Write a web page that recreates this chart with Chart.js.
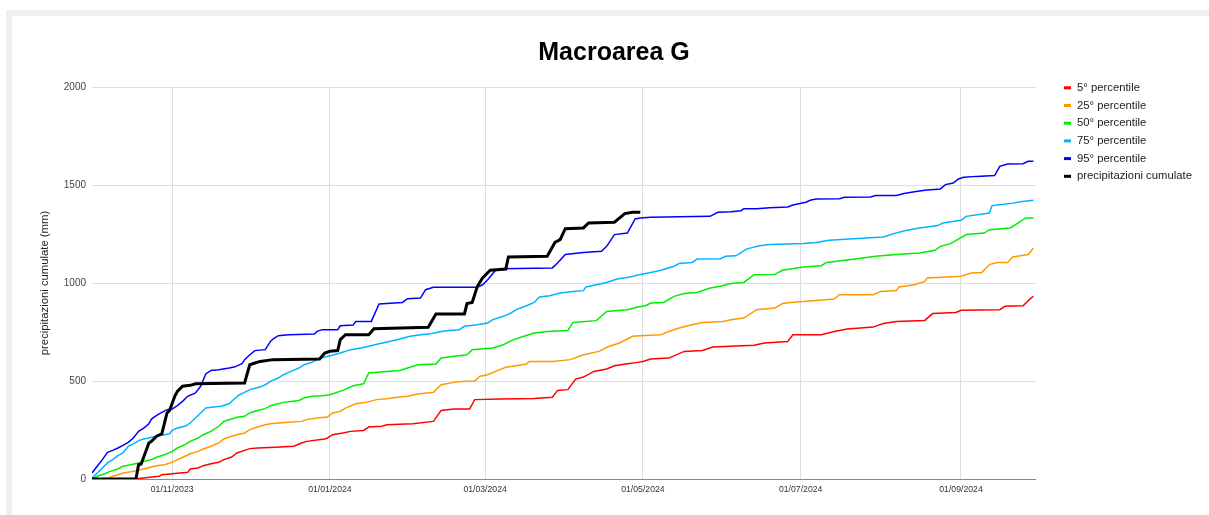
<!DOCTYPE html>
<html>
<head>
<meta charset="utf-8">
<script src="https://cdn.jsdelivr.net/npm/chart.js@4.4.0/dist/chart.umd.min.js"></script>
<style>
    html, body { margin: 0; padding: 0; background: #fff; }
    #frame { position: absolute; left: 6px; top: 10px; right: 0; bottom: 0; background: #efefef; }
    #card { position: absolute; left: 12px; top: 16px; right: 0; bottom: 0; background: #fff; }
    #chart { position: absolute; left: 0; top: 0; }
</style>
</head>
<body>
<div id="frame"></div>
<div id="card"></div>
<canvas id="chart" width="1209" height="515"></canvas>
<script>
// giorni dal 01/10/2023, valori in mm
const tickDays = [31, 92, 152, 213, 274, 336];
const tickLabels = ['01/11/2023', '01/01/2024', '01/03/2024', '01/05/2024', '01/07/2024', '01/09/2024'];

const p5 = [[0,0],[18,2],[20,5],[23,10],[26,14],[27,22],[31,27],[34,31],[37,34],[38,51],[41,56],[43,68],[46,78],[49,85],[51,99],[54,112],[56,133],[59,146],[61,155],[64,158],[71,162],[78,167],[81,184],[83,192],[90,204],[91,209],[93,226],[97,235],[100,243],[105,248],[107,265],[112,269],[114,277],[124,282],[132,294],[135,350],[140,357],[146,357],[148,405],[158,408],[171,411],[178,417],[180,452],[184,456],[187,510],[190,520],[194,549],[199,561],[202,578],[207,588],[211,595],[213,600],[216,612],[223,617],[229,651],[236,656],[240,673],[256,682],[260,694],[269,701],[271,736],[282,736],[287,753],[292,765],[302,775],[306,793],[311,804],[322,809],[325,844],[334,850],[336,861],[351,864],[353,881],[360,884],[363,923],[364,932]];

const p25 = [[0,0],[6,3],[8,14],[10,22],[12,31],[15,37],[18,44],[20,51],[23,61],[25,68],[28,73],[31,85],[33,99],[36,116],[38,129],[41,141],[43,153],[46,167],[49,184],[51,204],[54,218],[56,226],[59,235],[61,252],[64,265],[67,277],[69,282],[72,286],[76,289],[81,294],[83,303],[87,311],[91,316],[93,337],[96,345],[98,362],[102,384],[106,391],[110,405],[114,410],[118,417],[122,422],[126,434],[132,442],[135,481],[140,493],[143,498],[148,500],[150,524],[153,532],[156,549],[160,570],[164,578],[168,587],[169,600],[178,600],[185,609],[190,634],[196,651],[200,677],[204,694],[209,728],[212,731],[220,736],[223,753],[227,770],[232,787],[236,799],[244,804],[247,813],[252,821],[257,864],[264,872],[267,895],[270,901],[280,911],[287,918],[289,940],[302,940],[305,957],[311,962],[312,980],[318,991],[322,1008],[323,1025],[336,1034],[340,1051],[344,1054],[347,1094],[350,1105],[354,1105],[356,1133],[362,1145],[364,1179]];

const p50 = [[0,0],[2,14],[5,27],[7,39],[10,51],[12,65],[15,73],[18,82],[20,90],[23,99],[25,111],[28,124],[31,141],[33,158],[36,175],[38,192],[41,209],[43,226],[46,243],[49,269],[51,294],[54,306],[56,315],[59,320],[61,337],[64,349],[67,359],[69,374],[72,384],[74,391],[77,396],[80,401],[82,413],[85,422],[89,425],[92,430],[97,452],[101,476],[105,486],[107,541],[114,549],[119,554],[122,566],[126,583],[133,587],[135,617],[140,626],[145,634],[147,660],[155,668],[159,685],[163,711],[167,728],[171,745],[176,753],[184,758],[186,799],[195,808],[199,855],[207,864],[211,877],[214,884],[216,898],[221,901],[225,932],[229,946],[234,952],[239,974],[243,983],[247,997],[252,1003],[256,1042],[264,1044],[267,1065],[275,1082],[282,1088],[284,1105],[298,1128],[303,1136],[311,1145],[320,1153],[326,1167],[328,1187],[332,1201],[338,1247],[345,1255],[347,1272],[355,1281],[358,1306],[361,1332],[364,1332]];

const p75 = [[0,5],[2,31],[4,56],[6,82],[8,99],[10,119],[12,133],[14,167],[16,179],[18,196],[20,204],[22,209],[23,213],[25,218],[27,223],[30,231],[31,248],[33,260],[36,269],[38,286],[40,311],[42,337],[44,362],[47,367],[50,371],[53,384],[55,408],[57,430],[59,442],[61,456],[65,469],[67,481],[69,498],[72,515],[74,532],[77,549],[80,566],[82,583],[85,595],[87,609],[90,622],[92,629],[96,643],[100,660],[104,668],[107,677],[111,690],[115,702],[119,714],[123,728],[127,736],[131,741],[135,752],[138,758],[142,762],[144,779],[149,787],[153,796],[155,813],[159,830],[162,847],[164,864],[168,884],[171,901],[173,929],[177,935],[181,949],[186,957],[190,961],[191,980],[195,991],[199,1003],[203,1020],[208,1031],[212,1043],[216,1054],[220,1065],[225,1085],[227,1099],[232,1105],[234,1122],[243,1124],[245,1136],[249,1139],[253,1173],[258,1190],[262,1196],[275,1201],[280,1207],[285,1218],[293,1224],[301,1231],[306,1235],[310,1252],[315,1269],[320,1281],[327,1293],[329,1306],[336,1320],[338,1340],[347,1357],[348,1395],[355,1405],[359,1415],[364,1422]];

const p95 = [[0,31],[2,65],[4,99],[6,136],[8,146],[10,158],[12,172],[14,187],[16,209],[18,243],[20,260],[22,282],[23,306],[25,325],[27,340],[29,354],[31,357],[33,374],[35,396],[37,422],[40,439],[42,473],[44,536],[46,554],[49,558],[53,566],[55,571],[58,588],[59,609],[61,634],[63,655],[67,660],[69,702],[70,714],[72,731],[76,736],[86,740],[87,753],[89,762],[95,762],[96,782],[101,786],[102,804],[108,804],[111,893],[114,896],[120,901],[122,920],[127,923],[129,966],[132,978],[149,978],[151,991],[153,1017],[156,1065],[158,1073],[178,1077],[180,1102],[183,1145],[190,1156],[197,1162],[199,1187],[202,1247],[207,1255],[210,1327],[212,1332],[216,1335],[227,1338],[239,1340],[242,1361],[247,1364],[251,1369],[252,1379],[257,1379],[262,1384],[269,1388],[271,1398],[276,1412],[278,1423],[280,1429],[289,1430],[291,1437],[301,1439],[303,1446],[311,1446],[314,1457],[318,1466],[322,1473],[328,1480],[330,1502],[333,1510],[335,1531],[337,1539],[342,1544],[349,1548],[351,1595],[354,1607],[360,1609],[362,1621],[364,1621]];

const cumulate = [[0,0],[17,0],[18,73],[19,77],[22,184],[23,192],[25,218],[27,231],[29,337],[30,350],[32,422],[33,447],[35,473],[38,478],[40,486],[59,490],[61,583],[63,592],[65,600],[70,609],[88,612],[90,643],[92,652],[95,655],[96,711],[98,736],[107,736],[109,767],[130,774],[133,842],[144,842],[145,895],[147,901],[149,983],[151,1026],[154,1065],[160,1071],[161,1133],[176,1136],[179,1207],[181,1221],[183,1277],[190,1281],[192,1306],[202,1310],[206,1354],[209,1361],[212,1361]];

const FONT = "'Liberation Sans', Arial, sans-serif";

function toPoints(arr) {
    return arr.map(p => ({ x: p[0], y: p[1] }));
}

function serie(label, data, color, width, order) {
    return {
        label: label,
        data: toPoints(data),
        borderColor: color,
        backgroundColor: color,
        borderWidth: width,
        pointRadius: 0,
        tension: 0,
        order: order
    };
}

// titolo e legenda disegnati a mano per rispettare le posizioni
const titleLegend = {
    id: 'titleLegend',
    afterDraw(chart) {
        const ctx = chart.ctx;
        ctx.save();
        ctx.fillStyle = '#000';
        ctx.font = 'bold 25px ' + FONT;
        ctx.textAlign = 'center';
        ctx.textBaseline = 'alphabetic';
        ctx.fillText('Macroarea G', 614, 60);

        ctx.font = '11.3px ' + FONT;
        ctx.textAlign = 'left';
        ctx.textBaseline = 'middle';
        chart.data.datasets.forEach((ds, i) => {
            const y = 87.8 + i * 17.7;
            ctx.fillStyle = ds.borderColor;
            ctx.fillRect(1064, y - 1.5, 7, 3);
            ctx.fillStyle = '#222';
            ctx.fillText(ds.label, 1077, y);
        });
        ctx.restore();
    }
};

new Chart(document.getElementById('chart'), {
    type: 'line',
    data: {
        datasets: [
            serie('5° percentile', p5, '#ff0000', 1.5, 5),
            serie('25° percentile', p25, '#ff9900', 1.5, 4),
            serie('50° percentile', p50, '#00ee00', 1.5, 3),
            serie('75° percentile', p75, '#00b4ff', 1.5, 2),
            serie('95° percentile', p95, '#0000ff', 1.5, 1),
            serie('precipitazioni cumulate', cumulate, '#000000', 3, 0)
        ]
    },
    options: {
        responsive: false,
        animation: false,
        layout: {
            padding: { left: 34, right: 173, top: 87, bottom: 16 }
        },
        plugins: {
            legend: { display: false },
            title: { display: false },
            tooltip: { enabled: false }
        },
        scales: {
            x: {
                type: 'linear',
                min: 0,
                max: 365,
                afterBuildTicks: (scale) => {
                    scale.ticks = tickDays.map(v => ({ value: v }));
                },
                afterFit: (scale) => { scale.height = 20; },
                ticks: {
                    autoSkip: false,
                    maxRotation: 0,
                    padding: 5,
                    color: '#333',
                    font: { family: FONT, size: 8.7 },
                    callback: (value, index) => tickLabels[index]
                },
                grid: { color: '#dddddd', drawTicks: false },
                border: { display: false }
            },
            y: {
                min: 0,
                max: 2000,
                afterFit: (scale) => { scale.width = 58; },
                ticks: {
                    stepSize: 500,
                    padding: 6,
                    color: '#444',
                    font: { family: FONT, size: 10 },
                    callback: (value) => String(value)
                },
                grid: {
                    color: (c) => c.tick && c.tick.value === 0 ? '#888888' : '#dddddd',
                    drawTicks: false
                },
                border: { display: false },
                title: {
                    display: true,
                    text: 'precipitazioni cumulate (mm)',
                    color: '#222',
                    font: { family: FONT, size: 11.3 }
                }
            }
        }
    },
    plugins: [titleLegend]
});
</script>
</body>
</html>
